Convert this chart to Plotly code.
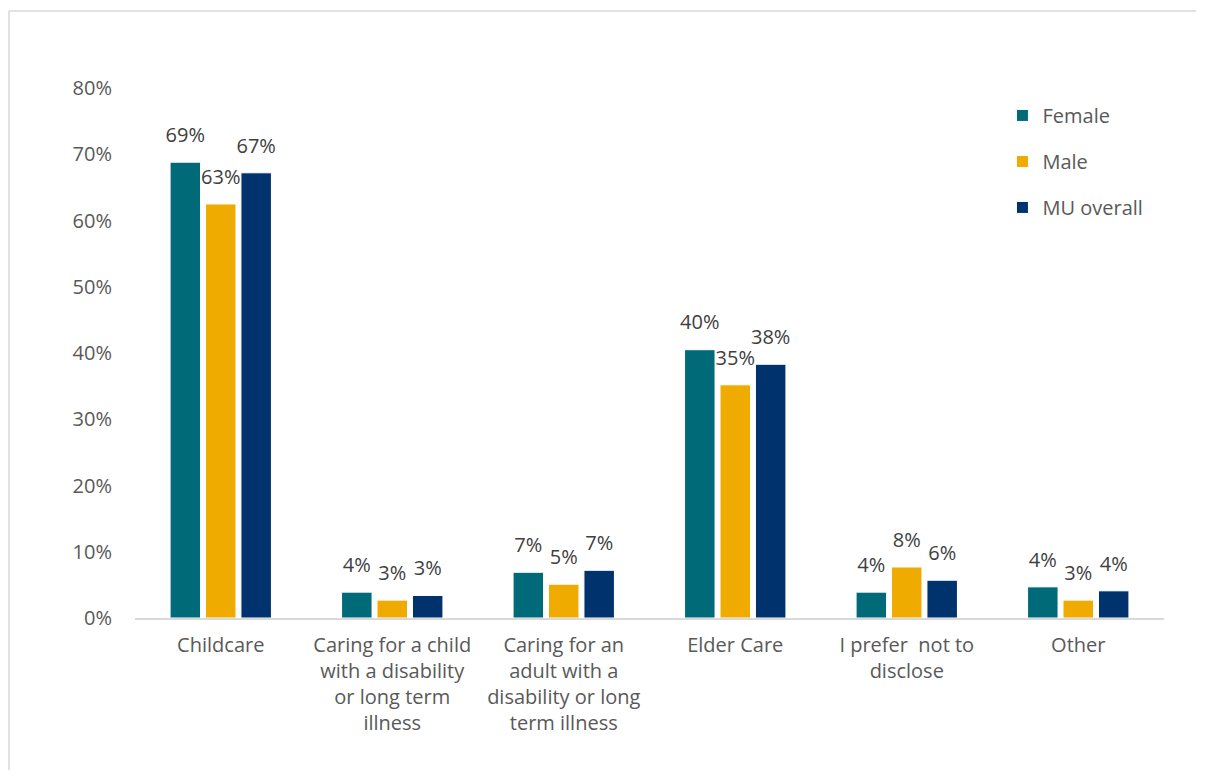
import plotly.graph_objects as go

categories = ["Childcare", "Caring for a child<br>with a disability<br>or long term<br>illness",
              "Caring for an<br>adult with a<br>disability or long<br>term illness", "Elder Care",
              "I prefer  not to<br>disclose", "Other"]
female = [0.688, 0.039, 0.069, 0.405, 0.039, 0.047]
male = [0.625, 0.027, 0.051, 0.352, 0.077, 0.027]
mu_overall = [0.672, 0.034, 0.072, 0.383, 0.057, 0.041]
female_labels = ["69%", "4%", "7%", "40%", "4%", "4%"]
male_labels = ["63%", "3%", "5%", "35%", "8%", "3%"]
mu_labels = ["67%", "3%", "7%", "38%", "6%", "4%"]
tick_vals = [0, 0.1, 0.2, 0.3, 0.4, 0.5, 0.6, 0.7, 0.8]
tick_text = ["0%", "10%", "20%", "30%", "40%", "50%", "60%", "70%", "80%"]

font_family = "Open Sans, Liberation Sans, sans-serif"
FS = 20

W, H = 1189, 762
L, T, B = 127, 80, 152
PW = 1029
R = W - L - PW
PH = H - T - B


def fmt(lab):
    return "<span style='font-size:20px'>" + lab + "</span><br>\u00a0"


fig = go.Figure()
for name, vals, labels, color in [
    ("Female", female, female_labels, "#006A78"),
    ("Male", male, male_labels, "#F0AB00"),
    ("MU overall", mu_overall, mu_labels, "#00336E"),
]:
    fig.add_trace(go.Bar(
        x=categories, y=vals, name=name, legendgroup=name,
        marker=dict(color=color, line=dict(color="white", width=1)),
        text=[fmt(lab) for lab in labels], textposition="outside", cliponaxis=False,
        constraintext="none", hoverinfo="x+y+name",
        textfont=dict(size=11, color="#404040", family=font_family),
    ))

fig.update_layout(
    width=W, height=H,
    paper_bgcolor="white", plot_bgcolor="white",
    barmode="group", bargap=0.38, bargroupgap=0.14,
    margin=dict(l=L, r=R, t=T, b=B),
    font=dict(family=font_family, size=FS, color="#595959"),
    showlegend=True,
    legend=dict(x=0.843, y=0.985, xanchor="left", yanchor="top",
                font=dict(size=FS, color="#595959"), tracegroupgap=17,
                bgcolor="rgba(0,0,0,0)"),
    xaxis=dict(showgrid=False, showline=True, linecolor="#D9D9D9", linewidth=1.5,
               ticks="", ticklabelstandoff=8, tickfont=dict(size=FS, color="#595959")),
    yaxis=dict(range=[0, 0.8], tickvals=tick_vals, ticktext=tick_text,
               showgrid=False, zeroline=False, showline=False, ticks="",
               ticklabelstandoff=22,
               tickfont=dict(size=FS, color="#595959")),
    shapes=[
        dict(type="line", xref="paper", yref="paper",
             x0=(1 - L) / PW, x1=(1 - L) / PW, y0=-0.4, y1=(PH + T - 3) / PH,
             line=dict(color="#D9D9D9", width=1.5), layer="below"),
        dict(type="line", xref="paper", yref="paper",
             x0=(1 - L) / PW, x1=(W - L - 1) / PW, y0=(PH + T - 3) / PH, y1=(PH + T - 3) / PH,
             line=dict(color="#D9D9D9", width=1.5), layer="below"),
    ],
)

fig.write_html("out.html")
